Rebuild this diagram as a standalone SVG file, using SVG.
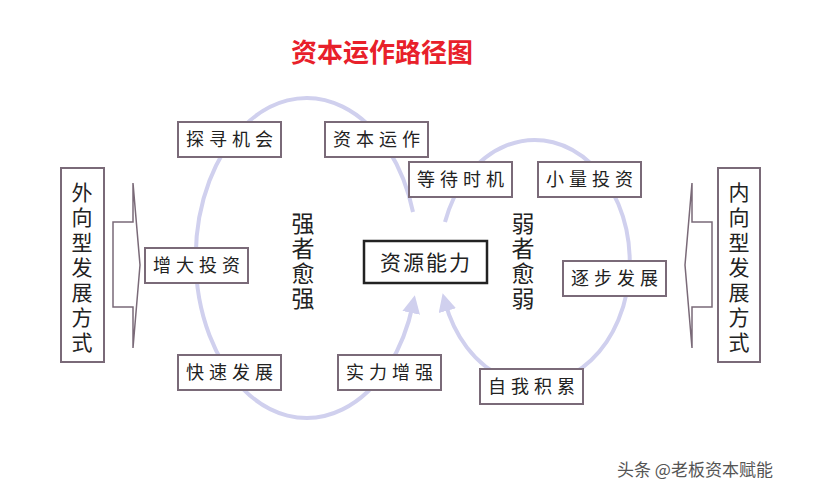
<svg xmlns="http://www.w3.org/2000/svg" width="814" height="500" viewBox="0 0 814 500">
<style>
.b{fill:#fff;stroke:#7a6a78;stroke-width:2}
.t{font-family:"Noto Sans CJK SC",sans-serif;font-size:18px;fill:#222;text-anchor:middle;letter-spacing:5px}
.v{font-family:"Noto Sans CJK SC",sans-serif;font-size:21px;fill:#222;text-anchor:middle}
.w{font-family:"Noto Sans CJK SC",sans-serif;font-size:23px;fill:#222;text-anchor:middle}
.loop{fill:none;stroke:#d0d0ee;stroke-width:4}
</style>
<defs><marker id="ah" viewBox="0 0 10 10" refX="5" refY="5" markerWidth="4.5" markerHeight="4.5" orient="auto"><path d="M0,0L10,5L0,10z" fill="#d0d0ee"/></marker></defs>
<rect width="814" height="500" fill="#fff"/>
<text x="382" y="62" font-family="Noto Sans CJK SC,sans-serif" font-size="26" font-weight="bold" fill="#e8202a" text-anchor="middle">资本运作路径图</text>
<g id="connectors">
<path class="loop" d="M413,212 A111,160 0 1 0 413,304" marker-end="url(#ah)"/>
<path class="loop" d="M445,222 A95,122 0 1 1 445,302" marker-end="url(#ah)"/>
<path d="M113,222H133V183L140,265L133,348V307H113Z" fill="#fff" stroke="#7a6a78" stroke-width="1.5"/>
<path d="M712,222H692V183L685,265L692,348V307H712Z" fill="#fff" stroke="#7a6a78" stroke-width="1.5"/>
</g>
<g id="n1"><rect class="b" x="178" y="122" width="103" height="35"/><text class="t" x="232" y="146">探寻机会</text></g>
<g id="n2"><rect class="b" x="325" y="122" width="103" height="35"/><text class="t" x="379" y="146">资本运作</text></g>
<g id="n3"><rect class="b" x="409" y="162" width="103" height="35"/><text class="t" x="463" y="186">等待时机</text></g>
<g id="n4"><rect class="b" x="538" y="162" width="103" height="35"/><text class="t" x="592" y="186">小量投资</text></g>
<g id="n5"><rect class="b" x="145" y="248" width="103" height="35"/><text class="t" x="199" y="272">增大投资</text></g>
<g id="n6"><rect x="364" y="241" width="123" height="42" fill="#fff" stroke="#222" stroke-width="2.5"/><text x="426" y="270" font-family="Noto Sans CJK SC,sans-serif" font-size="21" fill="#222" text-anchor="middle" letter-spacing="2">资源能力</text></g>
<g id="n7"><rect class="b" x="563" y="261" width="103" height="35"/><text class="t" x="617" y="285">逐步发展</text></g>
<g id="n8"><rect class="b" x="178" y="355" width="103" height="35"/><text class="t" x="232" y="379">快速发展</text></g>
<g id="n9"><rect class="b" x="338" y="355" width="103" height="35"/><text class="t" x="392" y="379">实力增强</text></g>
<g id="n10"><rect class="b" x="480" y="369" width="103" height="35"/><text class="t" x="534" y="393">自我积累</text></g>
<g id="n11"><rect class="b" x="61" y="168" width="43" height="194"/><text class="v" x="82" y="200">外</text><text class="v" x="82" y="225">向</text><text class="v" x="82" y="250">型</text><text class="v" x="82" y="275">发</text><text class="v" x="82" y="300">展</text><text class="v" x="82" y="325">方</text><text class="v" x="82" y="350">式</text></g>
<g id="n12"><rect class="b" x="718" y="168" width="42" height="194"/><text class="v" x="739" y="200">内</text><text class="v" x="739" y="225">向</text><text class="v" x="739" y="250">型</text><text class="v" x="739" y="275">发</text><text class="v" x="739" y="300">展</text><text class="v" x="739" y="325">方</text><text class="v" x="739" y="350">式</text></g>
<g id="n13"><text class="w" x="303" y="232">强</text><text class="w" x="303" y="257">者</text><text class="w" x="303" y="282">愈</text><text class="w" x="303" y="307">强</text></g>
<g id="n14"><text class="w" x="523" y="232">弱</text><text class="w" x="523" y="257">者</text><text class="w" x="523" y="282">愈</text><text class="w" x="523" y="307">弱</text></g>
<text x="695" y="476" font-family="Noto Sans CJK SC,sans-serif" font-size="17" fill="#555" text-anchor="middle">头条 @老板资本赋能</text>
</svg>
